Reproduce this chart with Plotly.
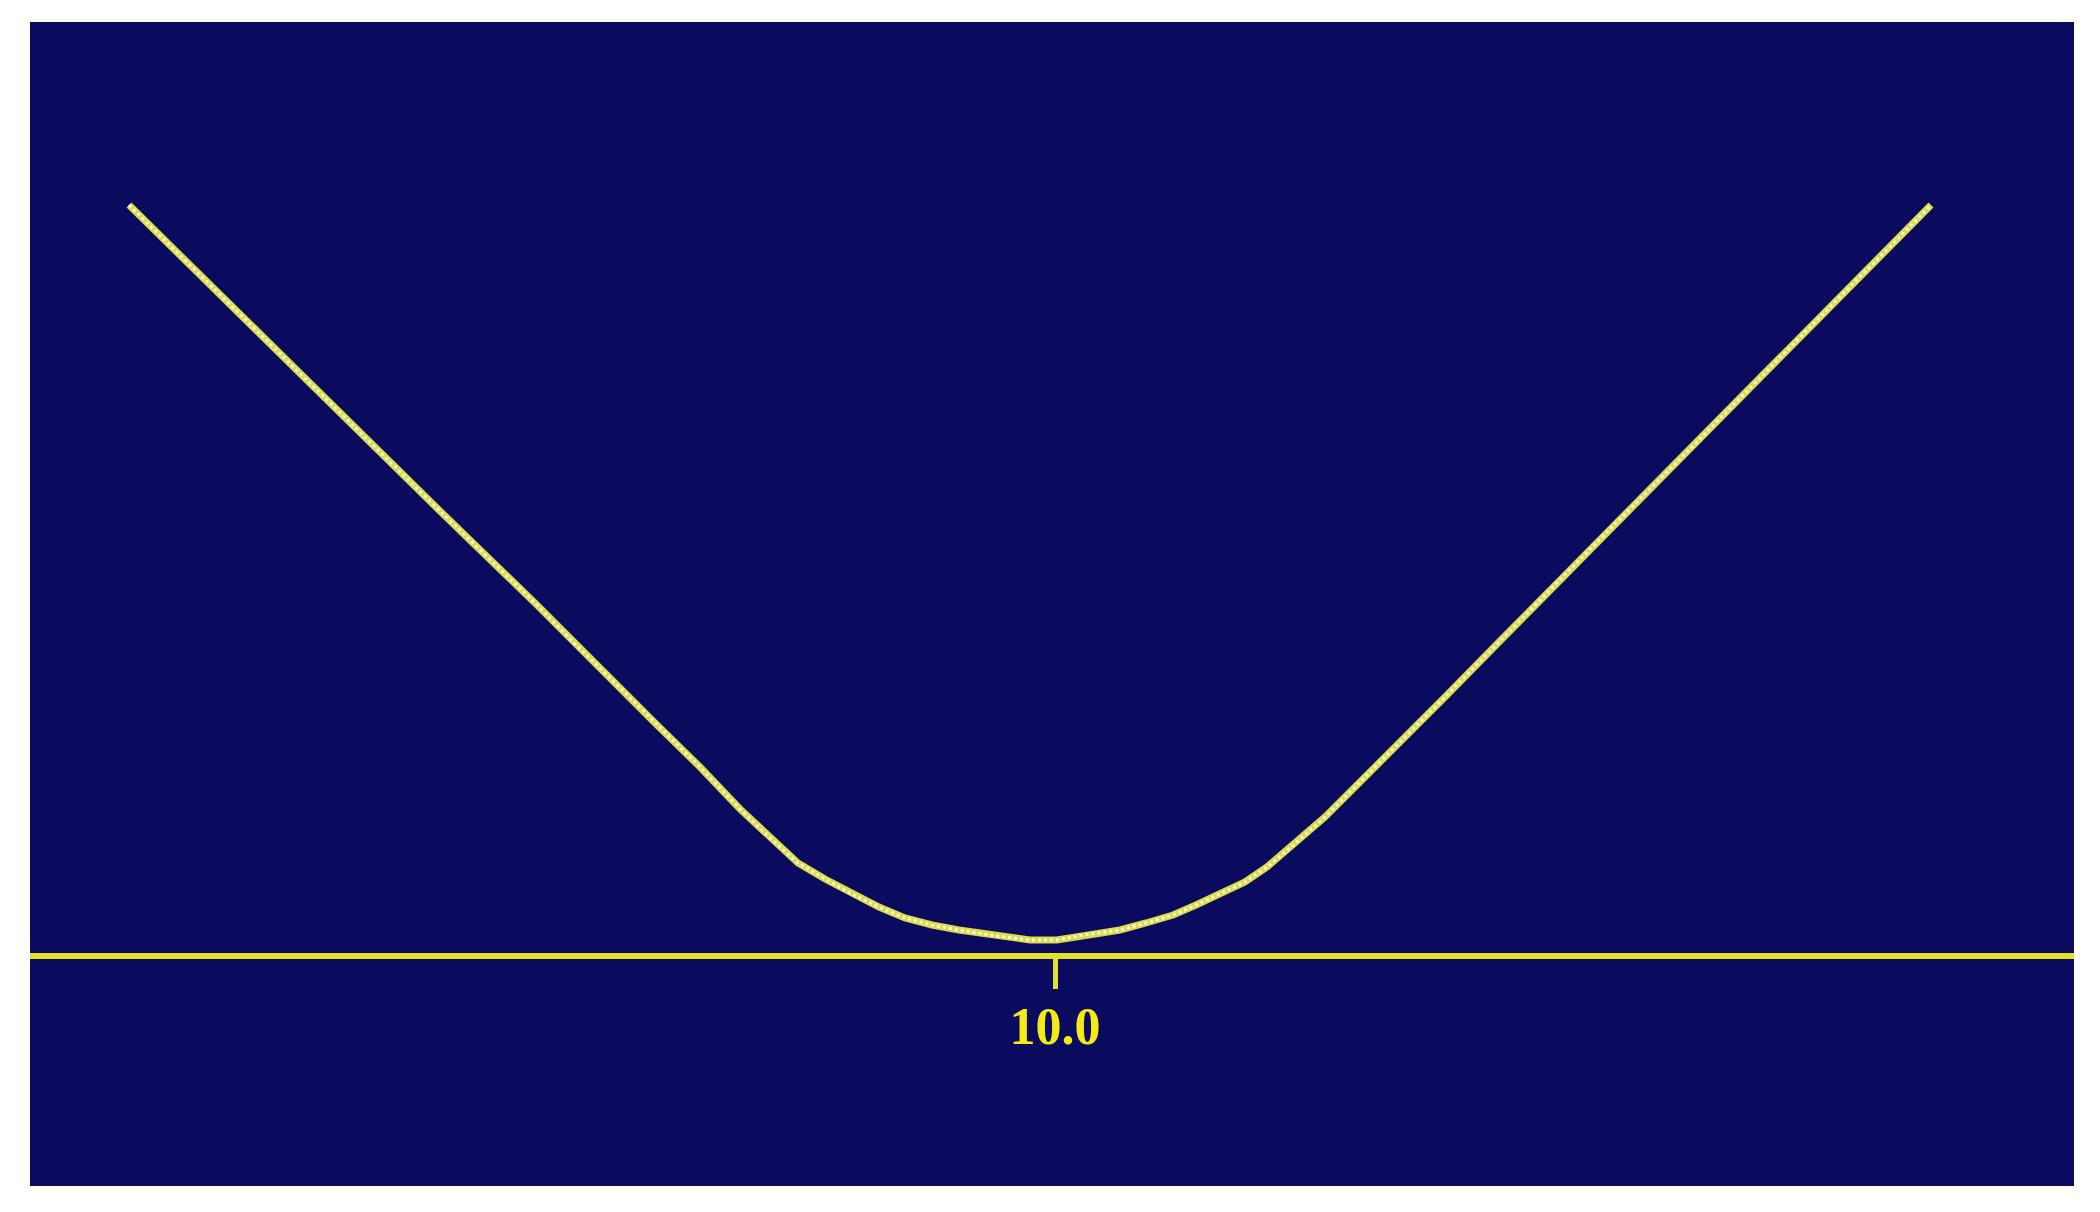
"""
plot.py — V-shaped curve on a navy panel with a single yellow axis tick.
"""
import plotly.graph_objects as go

NAVY = "#0a0a5f"
YELLOW = "#e4df2c"
LABEL_YELLOW = "#f2ec14"

# curve samples (x in axis units, y above the axis line)
curve_x = [0.74, 2.20, 2.95, 3.87, 4.80, 5.21, 5.45, 6.01, 6.45, 6.85, 7.12,
           7.43, 7.70, 7.97, 8.24, 8.50, 8.77, 9.04, 9.35, 9.75, 10.02, 10.29,
           10.65, 10.91, 11.18, 11.41, 11.63, 11.90, 12.12, 12.43, 12.70,
           13.01, 13.41, 13.91, 14.45, 15.52, 16.35, 16.86, 18.76]
curve_y = [7.51, 6.07, 5.33, 4.43, 3.53, 3.11, 2.88, 2.32, 1.89, 1.47, 1.21,
           0.93, 0.77, 0.62, 0.49, 0.38, 0.31, 0.26, 0.21, 0.16, 0.16, 0.21,
           0.26, 0.33, 0.41, 0.51, 0.61, 0.74, 0.89, 1.15, 1.39,
           1.70, 2.09, 2.60, 3.15, 4.24, 5.07, 5.59, 7.51]

tick_vals = [10.0]
tick_text = ["10.0"]

fig = go.Figure()
# yellow body of the dotted trace
fig.add_scatter(x=curve_x, y=curve_y, mode="lines",
                line=dict(color="#dcdc46", width=7), hoverinfo="skip",
                showlegend=False)
# white highlights between the dots
fig.add_scatter(x=curve_x, y=curve_y, mode="lines",
                line=dict(color="#f4f4f4", width=3, dash="dot"),
                hoverinfo="skip", showlegend=False)

# the page body adds an 8px offset, so margins are shifted to compensate
fig.update_layout(
    width=2100,
    height=1212,
    paper_bgcolor="white",
    plot_bgcolor=NAVY,
    margin=dict(l=22, r=34, t=14, b=34),
    showlegend=False,
)
fig.update_xaxes(
    range=[-0.25, 20.19],
    anchor="free",
    position=0.1976,
    side="bottom",
    showline=True,
    linecolor=YELLOW,
    linewidth=6,
    ticks="outside",
    ticklen=30,
    tickwidth=5,
    tickcolor=YELLOW,
    tickvals=tick_vals,
    ticktext=tick_text,
    ticklabelstandoff=-7,
    tickfont=dict(family="Liberation Serif", size=52, color=LABEL_YELLOW,
                  weight="bold"),
    showgrid=False,
    zeroline=False,
)
fig.update_yaxes(range=[-2.3, 9.34], visible=False, showgrid=False,
                 zeroline=False)

fig.write_html("out.html")
